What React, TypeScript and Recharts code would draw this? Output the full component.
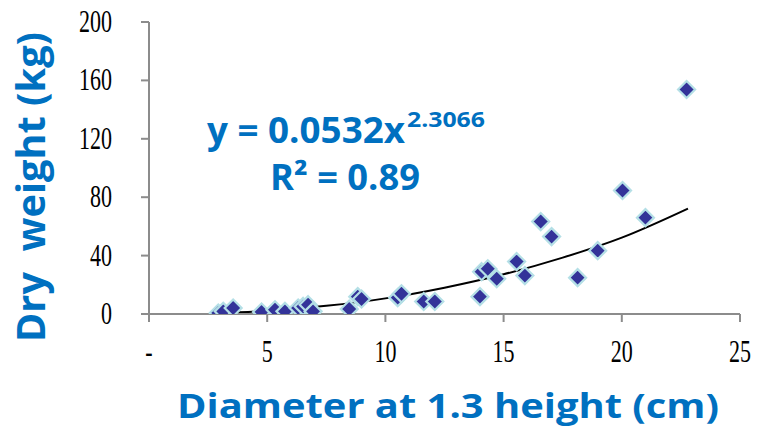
import React from 'react';
import { ComposedChart, Scatter, Line, XAxis, YAxis } from 'recharts';

const diameterCm = [2.93, 3.14, 3.56, 4.76, 5.33, 5.75, 6.31, 6.52, 6.73, 6.94, 8.47, 8.83, 8.99, 10.52, 10.68, 11.62, 12.09, 14.0, 14.07, 14.33, 14.71, 15.55, 15.9, 16.57, 17.03, 18.13, 18.98, 20.03, 21.0, 22.74];
const dryWeightKg = [0.7, 1.8, 4.1, 1.4, 2.9, 1.8, 4.1, 5.2, 6.4, 1.8, 3.4, 11.9, 10.3, 11.2, 13.9, 8.6, 8.6, 11.9, 29.0, 31.0, 24.2, 35.9, 26.3, 63.3, 53.0, 24.9, 43.4, 84.6, 66.0, 153.8];

const trendX = [2.9, 5, 7.5, 10, 12.5, 15, 17.5, 20, 22.8];
const trendY = [0.6, 2.2, 5.6, 10.7, 18.0, 27.2, 38.6, 52.3, 72.2];

const xTicks = [0, 5, 10, 15, 20, 25];
const xTickLabels = ['-', '5', '10', '15', '20', '25'];
const yTicks = [0, 40, 80, 120, 160, 200];

const points = diameterCm.map((x, i) => ({ x, y: dryWeightKg[i] }));
const trend = trendX.map((x, i) => ({ x, y: trendY[i] }));

const BLUE = '#0070C0';
const AXIS = '#8c8c8c';

const Diamond = (props: any) => {
  const { cx, cy } = props;
  if (cx == null || cy == null) return <g />;
  const r = 8.5;
  return (
    <polygon
      points={`${cx},${cy - r} ${cx + r},${cy} ${cx},${cy + r} ${cx - r},${cy}`}
      fill="#333399"
      stroke="#b4dfe6"
      strokeWidth={2.2}
    />
  );
};

const XTick = (props: any) => {
  const { x, y, payload } = props;
  const idx = xTicks.indexOf(payload.value);
  const label = idx >= 0 ? xTickLabels[idx] : String(payload.value);
  return (
    <g transform={`translate(${x},${y + 40}) scale(1,1.4)`}>
      <text x={0} y={0} textAnchor="middle" fontFamily="'Liberation Serif', 'Times New Roman', serif" fontSize={22} fill="#000">
        {label}
      </text>
    </g>
  );
};

const YTick = (props: any) => {
  const { x, y, payload } = props;
  return (
    <g transform={`translate(${x},${y + 10}) scale(1,1.4)`}>
      <text x={0} y={0} textAnchor="end" fontFamily="'Liberation Serif', 'Times New Roman', serif" fontSize={22} fill="#000">
        {payload.value}
      </text>
    </g>
  );
};

export default function App() {
  return (
    <div style={{ position: 'absolute', left: 0, top: 0, width: 757, height: 431, background: '#fff' }}>
      <ComposedChart width={757} height={431} margin={{ top: 22, right: 17, bottom: 0, left: 0 }}>
        <XAxis
          type="number"
          dataKey="x"
          domain={[0, 25]}
          ticks={xTicks}
          allowDataOverflow
          height={117}
          stroke={AXIS}
          strokeWidth={2}
          tickSize={8}
          tickMargin={0}
          tick={<XTick />}
        />
        <YAxis
          type="number"
          dataKey="y"
          domain={[0, 200]}
          ticks={yTicks}
          allowDataOverflow
          width={149}
          stroke={AXIS}
          strokeWidth={2}
          tickSize={8}
          tickMargin={29}
          tick={<YTick />}
        />
        <Scatter data={points} dataKey="y" shape={<Diamond />} isAnimationActive={false} />
        <Line data={trend} dataKey="y" type="monotone" stroke="#000" strokeWidth={2} dot={false} isAnimationActive={false} />
      </ComposedChart>
      <svg width={757} height={431} style={{ position: 'absolute', left: 0, top: 0, pointerEvents: 'none' }}>
        <g fontFamily="'Open Sans', 'Noto Sans', sans-serif" fontWeight="bold" fill={BLUE}>
          <text x={207} y={143} fontSize={35} textLength={198} lengthAdjust="spacingAndGlyphs" style={{ whiteSpace: 'pre' }}>y = 0.0532x</text>
          <text x={407} y={127} fontSize={21} textLength={78} lengthAdjust="spacingAndGlyphs">2.3066</text>
          <text x={270} y={190} fontSize={35} textLength={150} lengthAdjust="spacingAndGlyphs" style={{ whiteSpace: 'pre' }}>R² = 0.89</text>
          <text x={177} y={418} fontSize={34} textLength={542} lengthAdjust="spacingAndGlyphs" style={{ whiteSpace: 'pre' }}>Diameter at 1.3 height (cm)</text>
          <text transform="translate(45,187) rotate(-90)" x={0} y={0} textAnchor="middle" fontSize={40} textLength={310} lengthAdjust="spacingAndGlyphs" style={{ whiteSpace: 'pre' }}>Dry  weight (kg)</text>
        </g>
      </svg>
    </div>
  );
}
